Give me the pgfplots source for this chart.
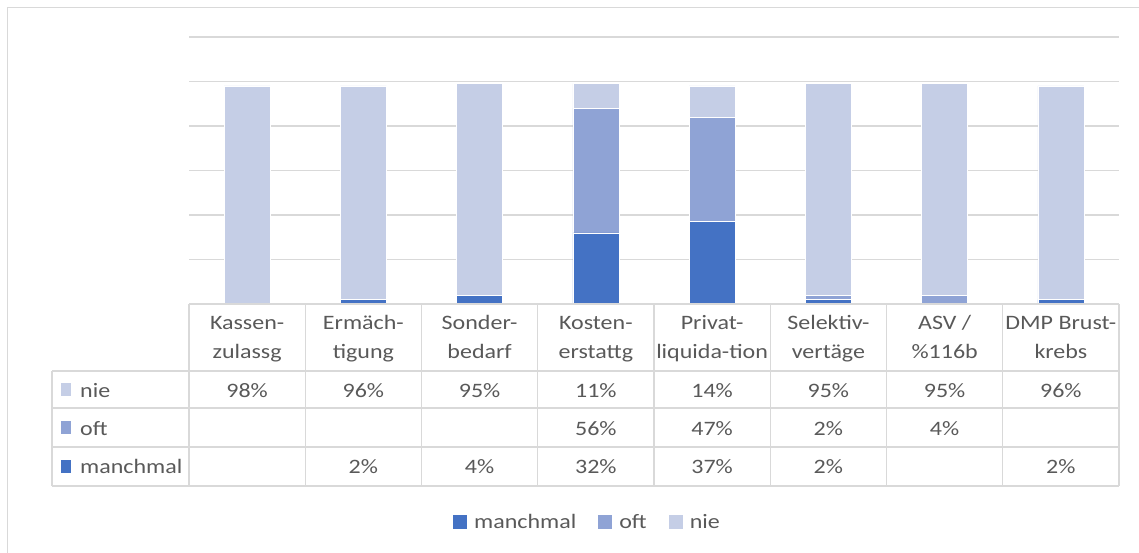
\documentclass[border=0pt]{standalone}
\usepackage{pgfplots}
\pgfplotsset{compat=1.18}
\usepackage{pgfplotstable}
\usepackage{fontspec}
\setmainfont{Carlito}[FakeStretch=1.17]

\definecolor{cManch}{HTML}{4472C4}
\definecolor{cOft}{HTML}{8FA3D5}
\definecolor{cNie}{HTML}{C5CEE6}
\definecolor{gridgray}{HTML}{D9D9D9}
\definecolor{textgray}{HTML}{595959}

% shares in percent per category (stacked: manchmal, oft, nie)
\pgfplotstableread[col sep=comma]{
pos,manchmal,oft,nie
1,0,0,98
2,2,0,96
3,4,0,95
4,32,56,11
5,37,47,14
6,2,2,95
7,0,4,95
8,2,0,96
}\shares

\newcommand\tabfont{\fontsize{20.5pt}{29pt}\selectfont}
\newcommand\slashsym{/}

\begin{document}
\begin{tikzpicture}[every node/.style={font=\tabfont, text=textgray, inner sep=0pt}]
\useasboundingbox (0,0) rectangle (1139pt,-553pt);

% outer chart frame
\draw[gridgray, line width=1.3pt] (7.5pt,-570pt) -- (7.5pt,-7.5pt) -- (1160pt,-7.5pt);

\begin{axis}[
  at={(189pt,-304pt)}, anchor=south west,
  scale only axis, width=930pt, height=267pt,
  xmin=0.5, xmax=8.5, ymin=0, ymax=120,
  ybar stacked, bar width=46pt,
  xtick=\empty, ytick={20,40,...,120}, yticklabels={}, major tick length=0pt,
  ymajorgrids, grid style={draw=gridgray, line width=1.3pt},
  axis line style={draw=none},
  legend style={at={(0.4285,-0.8165)}, anchor=center, draw=none, fill=none,
    legend columns=-1, font=\tabfont, text=textgray,
    /tikz/every odd column/.append style={column sep=5pt},
    /tikz/every even column/.append style={column sep=20pt},
    legend cell align=left},
  legend image code/.code={\fill[#1, draw=none] (0pt,-7pt) rectangle (14pt,7pt);},
]
\addplot[fill=cManch, draw=white, line width=0.6pt] table[x=pos, y=manchmal]{\shares};
\addlegendentry{manchmal}
\addplot[fill=cOft, draw=white, line width=0.6pt] table[x=pos, y=oft]{\shares};
\addlegendentry{oft}
\addplot[fill=cNie, draw=white, line width=0.6pt] table[x=pos, y=nie]{\shares};
\addlegendentry{nie}
\end{axis}

% data table grid
\begin{scope}[draw=gridgray, line width=1.3pt]
  \draw (189pt,-304pt) -- (1119pt,-304pt);
  \foreach \y in {371,408,447,486} \draw (52pt,{-\y*1pt}) -- (1119pt,{-\y*1pt});
  \draw (52pt,-371pt) -- (52pt,-486pt);
  \foreach \k in {0,...,8} \draw ({(189+116.25*\k)*1pt},-304pt) -- ({(189+116.25*\k)*1pt},-486pt);
\end{scope}

% category headers
\foreach \a/\b [count=\k from 0] in {Kassen-/zulassg, Ermäch-/tigung, Sonder-/bedarf, Kosten-/erstattg, Privat-/liquida-tion, Selektiv-/vertäge, ASV \slashsym/\%116b, DMP Brust-/krebs} {
  \node[anchor=base] at ({(247.125+116.25*\k)*1pt},-329pt) {\a};
  \node[anchor=base] at ({(247.125+116.25*\k)*1pt},-358pt) {\b};
}

% row keys and names
\fill[cNie]   (61pt,-383pt) rectangle (71pt,-396pt);
\fill[cOft]   (61pt,-421pt) rectangle (71pt,-434pt);
\fill[cManch] (61pt,-459.5pt) rectangle (71pt,-472.5pt);
\node[anchor=base west] at (80pt,-397pt) {nie};
\node[anchor=base west] at (80pt,-435pt) {oft};
\node[anchor=base west] at (80pt,-473pt) {manchmal};

% cell values
\foreach \col/\yb in {nie/397, oft/435, manchmal/473} {
  \foreach \r in {0,...,7} {
    \pgfplotstablegetelem{\r}{\col}\of\shares
    \ifnum\pgfplotsretval>0
      \node[anchor=base] at ({(247.125+116.25*\r)*1pt},{-\yb*1pt}) {\pgfplotsretval\%};
    \fi
  }
}
\end{tikzpicture}
\end{document}
